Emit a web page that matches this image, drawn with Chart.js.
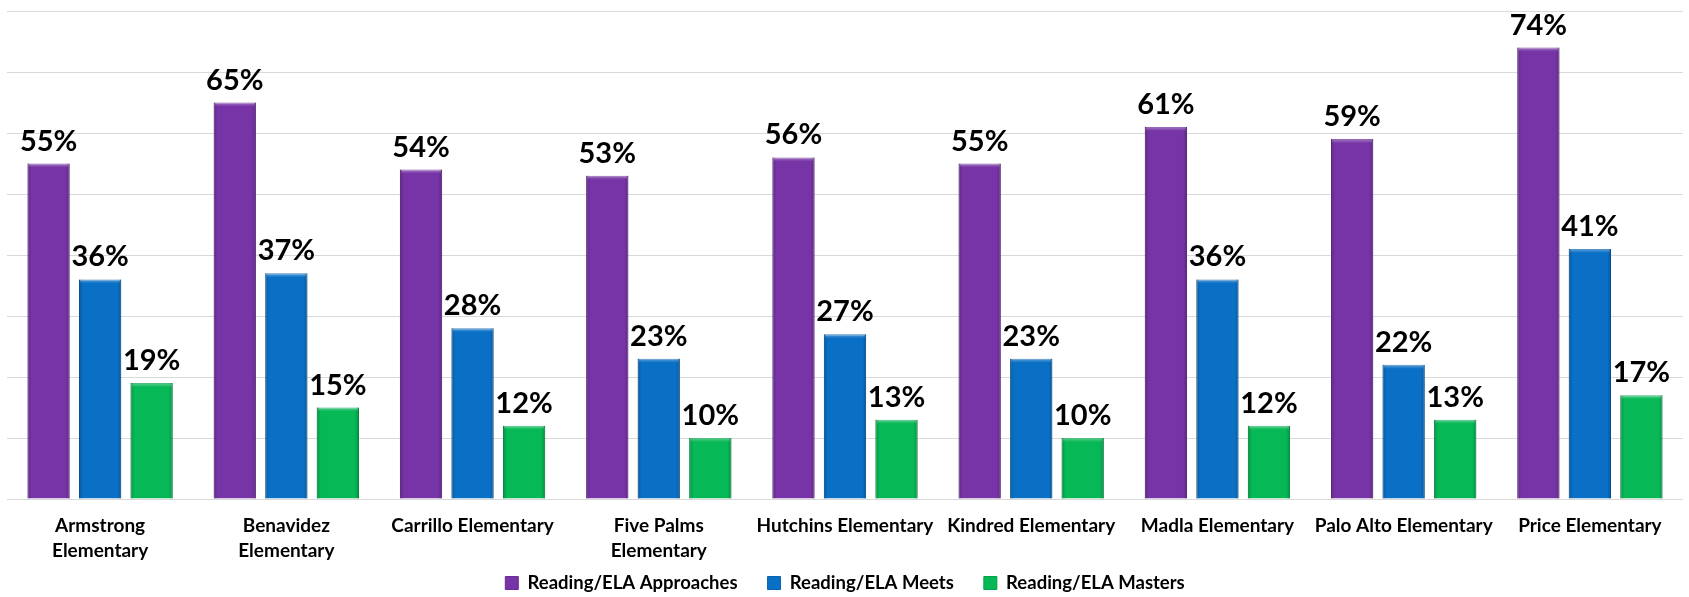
<!DOCTYPE html>
<html>
<head>
<meta charset="utf-8">
<script src="https://cdn.jsdelivr.net/npm/chart.js@4.4.1/dist/chart.umd.min.js"></script>
<style>
  html, body { margin: 0; padding: 0; background: #ffffff; }
  #wrap { width: 1689px; height: 597px; }
</style>
</head>
<body>
<div id="wrap"><canvas id="readingChart"></canvas></div>
<script>
const schools = [
    ['Armstrong', 'Elementary'],
    ['Benavidez', 'Elementary'],
    'Carrillo Elementary',
    ['Five Palms', 'Elementary'],
    'Hutchins Elementary',
    'Kindred Elementary',
    'Madla Elementary',
    'Palo Alto Elementary',
    'Price Elementary'
];
const approaches = [55, 65, 54, 53, 56, 55, 61, 59, 74];
const meets = [36, 37, 28, 23, 27, 23, 36, 22, 41];
const masters = [19, 15, 12, 10, 13, 10, 12, 13, 17];

const fontFamily = 'Lato, "Open Sans", sans-serif';

// soft bevel look: darker side edges and a light strip along the top
const bevel = {
    id: 'bevel',
    afterDatasetsDraw(chart) {
        const ctx = chart.ctx;
        ctx.save();
        chart.data.datasets.forEach((ds, i) => {
            chart.getDatasetMeta(i).data.forEach(bar => {
                const left = bar.x - bar.width / 2;
                const right = bar.x + bar.width / 2;
                const h = bar.base - bar.y;
                let g = ctx.createLinearGradient(left, 0, left + 4, 0);
                g.addColorStop(0, 'rgba(0,0,0,0.22)');
                g.addColorStop(1, 'rgba(0,0,0,0)');
                ctx.fillStyle = g;
                ctx.fillRect(left, bar.y, 4, h);
                g = ctx.createLinearGradient(right - 4, 0, right, 0);
                g.addColorStop(0, 'rgba(0,0,0,0)');
                g.addColorStop(1, 'rgba(0,0,0,0.22)');
                ctx.fillStyle = g;
                ctx.fillRect(right - 4, bar.y, 4, h);
                g = ctx.createLinearGradient(0, bar.y, 0, bar.y + 4);
                g.addColorStop(0, 'rgba(255,255,255,0.35)');
                g.addColorStop(1, 'rgba(255,255,255,0)');
                ctx.fillStyle = g;
                ctx.fillRect(left + 1, bar.y, bar.width - 2, 4);
            });
        });
        ctx.restore();
    }
};

// draws the "55%" style labels on top of every bar
const valueLabels = {
    id: 'valueLabels',
    afterDatasetsDraw(chart) {
        const ctx = chart.ctx;
        ctx.save();
        ctx.font = 'bold 29px ' + fontFamily;
        ctx.fillStyle = '#000000';
        ctx.textAlign = 'center';
        ctx.textBaseline = 'alphabetic';
        chart.data.datasets.forEach((ds, i) => {
            const meta = chart.getDatasetMeta(i);
            meta.data.forEach((bar, j) => {
                ctx.fillText(ds.data[j] + '%', bar.x, bar.y - 13);
            });
        });
        ctx.restore();
    }
};

// legend takes only a thin band, then gets nudged up under the labels
const legendBand = {
    id: 'legendBand',
    beforeInit(chart) {
        const origFit = chart.legend.fit;
        chart.legend.fit = function () {
            origFit.bind(chart.legend)();
            this.height = 34;
        };
    },
    afterLayout(chart) {
        chart.legend.top = 583 - 30 - 9.25;
    }
};

const ctx = document.getElementById('readingChart').getContext('2d');
new Chart(ctx, {
    type: 'bar',
    data: {
        labels: schools,
        datasets: [
            {
                label: 'Reading/ELA Approaches',
                data: approaches,
                backgroundColor: '#7634a6',
                borderColor: '#6a2c96',
                borderWidth: 1
            },
            {
                label: 'Reading/ELA Meets',
                data: meets,
                backgroundColor: '#0a70c6',
                borderColor: '#0863b0',
                borderWidth: 1
            },
            {
                label: 'Reading/ELA Masters',
                data: masters,
                backgroundColor: '#06b856',
                borderColor: '#05a04b',
                borderWidth: 1
            }
        ]
    },
    options: {
        responsive: true,
        maintainAspectRatio: false,
        animation: false,
        datasets: {
            bar: {
                barPercentage: 0.82,
                categoryPercentage: 0.83
            }
        },
        layout: {
            padding: { left: 7, right: 6, top: 11, bottom: 0 }
        },
        scales: {
            x: {
                grid: { display: false, drawTicks: false },
                border: { display: false },
                afterFit(scale) { scale.height = 64; },
                ticks: {
                    color: '#000000',
                    padding: 14,
                    maxRotation: 0,
                    autoSkip: false,
                    font: { family: fontFamily, size: 19, weight: 'bold', lineHeight: 1.32 }
                }
            },
            y: {
                min: 0,
                max: 80,
                ticks: { display: false, stepSize: 10 },
                border: { display: false },
                grid: { color: '#d9d9d9', lineWidth: 1, drawTicks: false }
            }
        },
        plugins: {
            legend: {
                position: 'bottom',
                labels: {
                    color: '#000000',
                    boxWidth: 13,
                    boxHeight: 13,
                    padding: 30,
                    font: { family: fontFamily, size: 18.5, weight: 'bold' }
                }
            },
            tooltip: { enabled: false }
        }
    },
    plugins: [bevel, valueLabels, legendBand]
});
</script>
</body>
</html>
